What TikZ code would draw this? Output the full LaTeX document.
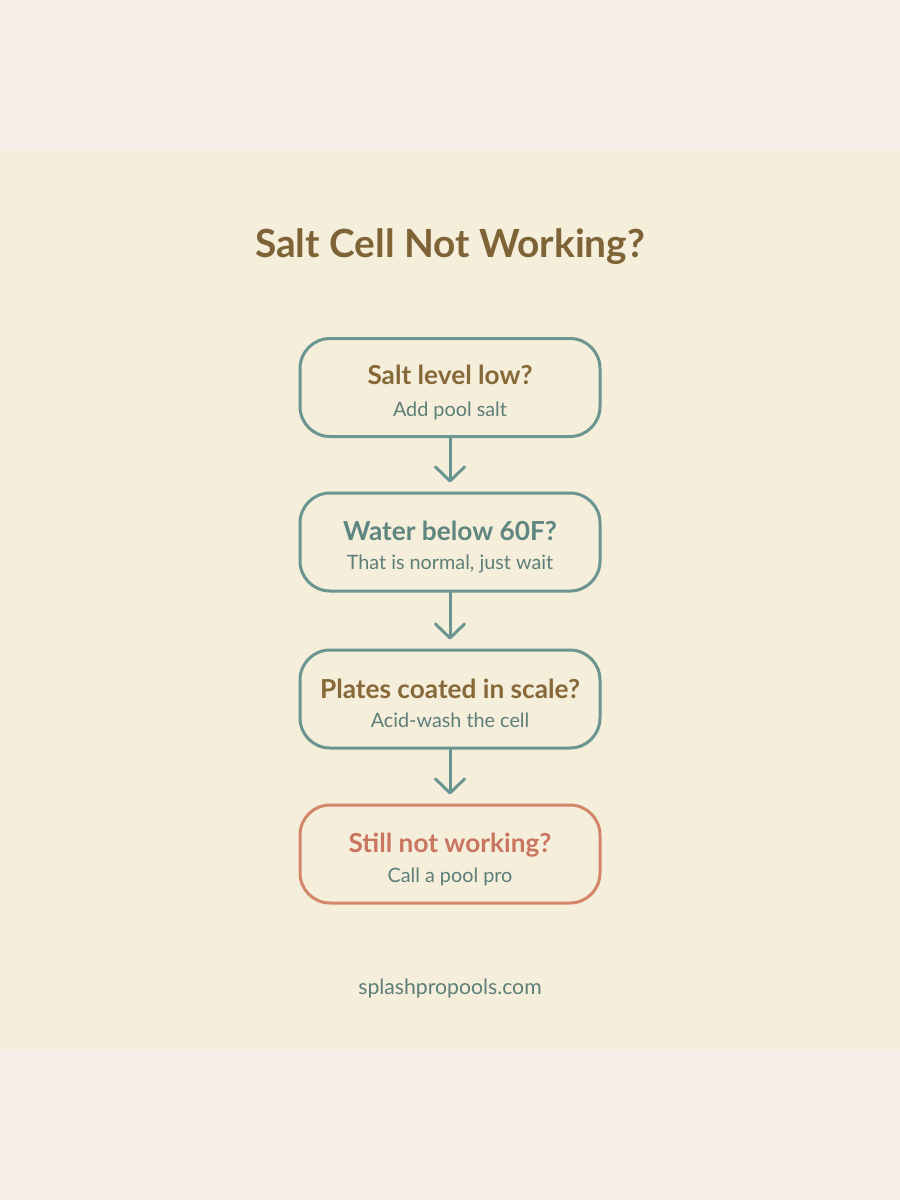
\documentclass[tikz,border=0pt]{standalone}
\usepackage{fontspec}
\setmainfont{Lato}
\usetikzlibrary{arrows.meta}
\definecolor{outerbg}{HTML}{F6EFE8}
\definecolor{innerbg}{HTML}{F4EEDA}
\definecolor{teal}{HTML}{6B9591}
\definecolor{brown}{HTML}{7E6337}
\definecolor{boxbrown}{HTML}{876839}
\definecolor{tealtext}{HTML}{5E8580}
\definecolor{subtext}{HTML}{5E7E7A}
\definecolor{orangeline}{HTML}{D4866A}
\definecolor{orangetext}{HTML}{C97560}
\tikzset{
  stepbox/.style={draw=teal, line width=3pt, rounded corners=30pt, minimum width=300pt, minimum height=98pt, inner sep=0pt},
  endbox/.style={stepbox, draw=orangeline},
  boxtitle/.style={anchor=base, font=\fontsize{26.2}{30}\selectfont\bfseries, inner sep=0pt},
  boxsub/.style={anchor=base, font=\fontsize{19.8}{23}\selectfont, text=subtext, inner sep=0pt},
  flow/.style={draw=teal, line width=3pt, line cap=round, -{Straight Barb[length=14pt, width=29pt, line width=3pt, line cap=round, line join=round]}, shorten >=9pt}
}
\begin{document}
\begin{tikzpicture}[x=1pt, y=-1pt]
\fill[outerbg] (0,0) rectangle (900,1200);
\fill[innerbg] (0,150) rectangle (900,1050);
\useasboundingbox (0,0) rectangle (900,1200);

\node[anchor=base, font=\fontsize{38.8}{44}\selectfont\bfseries, text=brown, inner sep=0pt] (title) at (450,257) {Salt Cell Not Working?};

\node[stepbox] (b1) at (450,387.5) {};
\node[boxtitle, text=boxbrown] (t1) at (450,384) {Salt level low?};
\node[boxsub] (s1) at (450,416) {Add pool salt};

\node[stepbox] (b2) at (450,542) {};
\node[boxtitle, text=tealtext] (t2) at (450,540) {Water below 60F?};
\node[boxsub] (s2) at (450,569) {That is normal, just wait};

\node[stepbox] (b3) at (450,699) {};
\node[boxtitle, text=boxbrown] (t3) at (450,698) {Plates coated in scale?};
\node[boxsub] (s3) at (450,727) {Acid-wash the cell};

\node[endbox] (b4) at (450,854) {};
\node[boxtitle, text=orangetext] (t4) at (450,852) {Still not working?};
\node[boxsub] (s4) at (450,882) {Call a pool pro};

\draw[flow] (b1.south) -- (b2.north);
\draw[flow] (b2.south) -- (b3.north);
\draw[flow] (b3.south) -- (b4.north);

\node[anchor=base, font=\fontsize{21.2}{25}\selectfont, text=subtext, inner sep=0pt] (site) at (450,994) {splashpropools.com};
\end{tikzpicture}
\end{document}
